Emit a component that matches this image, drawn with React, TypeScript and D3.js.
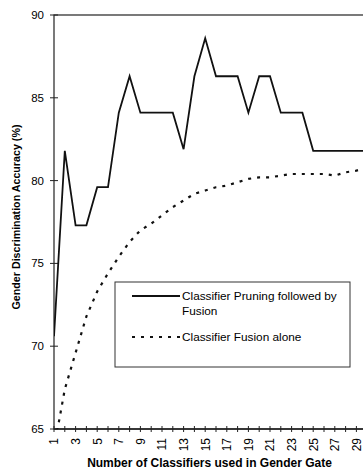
import React, { useEffect, useRef } from 'react'
import * as d3 from 'd3'

// number of classifiers used in the gender gate
const classifiers = [1, 2, 3, 4, 5, 6, 7, 8, 9, 10, 11, 12, 13, 14, 15, 16, 17, 18, 19, 20, 21, 22, 23, 24, 25, 26, 27, 28, 29, 30]
// pruning followed by fusion
const pruning = [70.6, 81.8, 77.3, 77.3, 79.6, 79.6, 84.1, 86.3, 84.1, 84.1, 84.1, 84.1, 81.9, 86.3, 88.6, 86.3, 86.3, 86.3, 84.1, 86.3, 86.3, 84.1, 84.1, 84.1, 81.8, 81.8, 81.8, 81.8, 81.8, 81.8]
// fusion alone
const fusion = [63.8, 67.4, 69.6, 71.8, 73.3, 74.4, 75.4, 76.3, 77.0, 77.4, 77.9, 78.4, 78.8, 79.2, 79.4, 79.6, 79.7, 79.9, 80.1, 80.2, 80.2, 80.3, 80.4, 80.4, 80.4, 80.4, 80.3, 80.5, 80.6, 80.8]
const yTicks = [65, 70, 75, 80, 85, 90]
const xLabels = [1, 3, 5, 7, 9, 11, 13, 15, 17, 19, 21, 23, 25, 27, 29]
const legendItems = [
  { lines: ['Classifier Pruning followed by', 'Fusion'], dash: null },
  { lines: ['Classifier Fusion alone'], dash: '3,6' },
]

const W = 363
const H = 471
const font = '"Liberation Sans", Arial, sans-serif'

function drawChart(el: SVGSVGElement) {
  const svg = d3.select(el)
  svg.selectAll('*').remove()

  const left = 54, right = 367.2, top = 15, bottom = 429

  const x = d3.scaleLinear().domain([1, 30]).range([left, right])
  const y = d3.scaleLinear().domain([65, 90]).range([bottom, top])

  svg.append('defs').append('clipPath').attr('id', 'plotclip')
    .append('rect').attr('x', left).attr('y', top).attr('width', right - left).attr('height', bottom - top)

  // plot frame (top + left visible, right is cut off)
  svg.append('rect')
    .attr('x', left).attr('y', top).attr('width', right - left).attr('height', bottom - top)
    .attr('fill', 'none').attr('stroke', '#222').attr('stroke-width', 1.2)

  // y axis ticks + labels
  const yg = svg.append('g')
  yg.selectAll('line').data(yTicks).join('line')
    .attr('x1', left - 4).attr('x2', left + 4)
    .attr('y1', d => y(d)).attr('y2', d => y(d))
    .attr('stroke', '#222').attr('stroke-width', 1)
  yg.selectAll('text').data(yTicks).join('text')
    .attr('x', left - 10).attr('y', d => y(d)).attr('dy', '0.35em')
    .attr('text-anchor', 'end')
    .attr('font-family', font).attr('font-size', 11.5)
    .text(d => d)

  // x axis ticks + labels
  const xg = svg.append('g')
  xg.append('line')
    .attr('x1', left).attr('x2', right).attr('y1', bottom).attr('y2', bottom)
    .attr('stroke', '#222').attr('stroke-width', 1.4)
  xg.selectAll('line.tick').data(classifiers).join('line')
    .attr('class', 'tick')
    .attr('x1', d => x(d)).attr('x2', d => x(d))
    .attr('y1', bottom - 3).attr('y2', bottom + 3)
    .attr('stroke', '#222').attr('stroke-width', 1)
  xg.selectAll('text').data(xLabels).join('text')
    .attr('transform', d => `translate(${x(d) + 4.3},${bottom + 9}) rotate(-90)`)
    .attr('text-anchor', 'end')
    .attr('font-family', font).attr('font-size', 12)
    .text(d => d)

  const line = d3.line<number>()
    .x((d, i) => x(classifiers[i]))
    .y(d => y(d))

  const plot = svg.append('g').attr('clip-path', 'url(#plotclip)')
  plot.append('path').datum(fusion)
    .attr('d', line).attr('fill', 'none')
    .attr('stroke', '#111').attr('stroke-width', 2.2)
    .attr('stroke-dasharray', '3,6')
  plot.append('path').datum(pruning)
    .attr('d', line).attr('fill', 'none')
    .attr('stroke', '#111').attr('stroke-width', 1.8)
    .attr('stroke-linejoin', 'miter')

  // legend
  const lg = svg.append('g')
  lg.append('rect')
    .attr('x', 115).attr('y', 282).attr('width', 235).attr('height', 85)
    .attr('fill', '#fff').attr('stroke', '#333').attr('stroke-width', 1)
  const rowY = [296, 337]
  legendItems.forEach((item, i) => {
    lg.append('line')
      .attr('x1', 132).attr('x2', 180).attr('y1', rowY[i]).attr('y2', rowY[i])
      .attr('stroke', '#111').attr('stroke-width', item.dash ? 2.2 : 1.8)
      .attr('stroke-dasharray', item.dash)
    const t = lg.append('text')
      .attr('font-family', font).attr('font-size', 11.8)
    item.lines.forEach((s, j) => {
      t.append('tspan').attr('x', 182).attr('y', rowY[i] + j * 15).attr('dy', '0.35em').text(s)
    })
  })

  // axis titles
  svg.append('text')
    .attr('x', 209.5).attr('y', 467)
    .attr('text-anchor', 'middle')
    .attr('font-family', font).attr('font-size', 12).attr('font-weight', 'bold')
    .text('Number of Classifiers used in Gender Gate')
  svg.append('text')
    .attr('transform', 'translate(20,217) rotate(-90)')
    .attr('text-anchor', 'middle')
    .attr('font-family', font).attr('font-size', 10.7).attr('font-weight', 'bold')
    .text('Gender Discrimination Accuracy (%)')
}

export default function App() {
  const ref = useRef<SVGSVGElement>(null)
  useEffect(() => {
    if (ref.current) drawChart(ref.current)
  }, [])
  return (
    <svg ref={ref} width={W} height={H}
      style={{ position: 'absolute', left: 0, top: 0, background: '#fff' }} />
  )
}
